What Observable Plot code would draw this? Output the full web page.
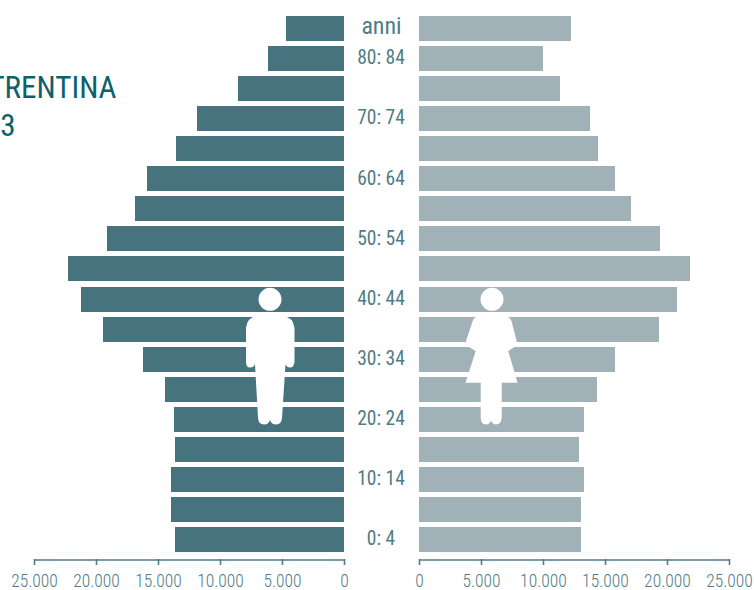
<!DOCTYPE html>
<html><head><meta charset="utf-8">
<script src="https://cdn.jsdelivr.net/npm/d3@7"></script>
<script src="https://cdn.jsdelivr.net/npm/@observablehq/plot@0.6"></script>
<style>html,body{margin:0;padding:0;background:#fff}svg{display:block}</style>
</head><body><div id="chart"></div>
<script>
const ages = ["anni","80: 84","75: 79","70: 74","65: 69","60: 64","55: 59","50: 54","45: 49","40: 44","35: 39","30: 34","25: 29","20: 24","15: 19","10: 14","5: 9","0: 4"];
const shownAges = ["80: 84","70: 74","60: 64","50: 54","40: 44","30: 34","20: 24","10: 14","0: 4"];
const topLabel = ["anni"];
const males = [4680,6130,8550,11860,13550,15890,16860,19110,22260,21210,19440,16210,14440,13710,13630,13950,13950,13630];
const females = [12260,10000,11370,13790,14440,15810,17100,19440,21860,20810,19360,15810,14360,13310,12900,13310,13070,13070];
const axisValues = [0,5000,10000,15000,20000,25000];
const titleLines = ["TRENTINA","3"];

const gap = 3024; // half of the central column, in population units
const maxV = 25000;
const font = "'Liberation Sans Narrow','Roboto Condensed','Liberation Sans',sans-serif";
const dark = "#47737f", light = "#a0b1b8", axisCol = "#4f7c86", labelCol = "#4f7c86", titleCol = "#0b626b";

const rows = ages.map((a,i)=>({age:a, m:males[i], f:females[i]}));
const itFmt = d => d === 0 ? "0" : d3.format(",")(d).replace(/,/g,".");
const tickPos = [...axisValues.map(v=>-(v+gap)), ...axisValues.map(v=>v+gap)];

const maleIcon = "M257 316L283 316Q293 317 294.5 328L294.5 362Q294 367.5 290 367.5Q286.5 367.5 285.5 364L282 418Q281.5 424.5 276 424.5Q271.5 424.5 270 420Q268.5 424.5 264 424.5Q258.5 424.5 258 418L255 364Q254 367.5 250 367.5Q246 367.5 246 362L246 328Q247 317 257 316ZM258.5 299.3a11.5 11.5 0 1 0 23 0a11.5 11.5 0 1 0 -23 0Z";
const femaleIcon = "M479 316L505 316Q511 317 512 323L516.7 341L516 346L508.3 351L517.5 382.7L501.7 382.7L501.7 418Q501 424.5 496 424.5Q492.5 424.5 491 420.5Q489.5 424.5 486 424.5Q481 424.5 480.7 418L480.7 382.7L465.5 382.7L475.7 351L467.3 346L466 341L472 323Q473 317 479 316ZM480.5 299.3a11.5 11.5 0 1 0 23 0a11.5 11.5 0 1 0 -23 0Z";
const icon = d => () => {
  const p = document.createElementNS("http://www.w3.org/2000/svg","path");
  p.setAttribute("d", d); p.setAttribute("fill", "#fff"); return p;
};

const chart = Plot.plot({
  width: 754, height: 590,
  marginTop: 0, marginBottom: 31, marginLeft: 0, marginRight: 0,
  style: {background: "#fff", fontFamily: font},
  x: {domain: [-(maxV+gap), maxV+gap], range: [34, 729], axis: null},
  y: {domain: ages, range: [16, 552], paddingInner: 0.167, paddingOuter: 0, round: false, axis: null},
  marks: [
    Plot.barX(rows, {y: "age", x1: -gap, x2: d => -gap - d.m, fill: dark, shapeRendering: "crispEdges"}),
    Plot.barX(rows, {y: "age", x1: gap, x2: d => gap + d.f, fill: light, shapeRendering: "crispEdges"}),
    Plot.text(rows.filter(d => shownAges.includes(d.age)), {
      y: "age", x: 0, text: "age", fill: labelCol, fontSize: 19.5, dx: -1, dy: -1,
      lineAnchor: "middle", textAnchor: "middle"
    }),
    Plot.text(rows.filter(d => topLabel.includes(d.age)), {
      y: "age", x: 0, text: "age", fill: labelCol, fontSize: 24, dx: -0.5, dy: -3,
      lineAnchor: "middle", textAnchor: "middle"
    }),
    Plot.axisX({
      ticks: tickPos, anchor: "bottom", label: null, tickSize: 6, tickPadding: 9,
      tickFormat: d => itFmt(Math.abs(d) - gap),
      stroke: axisCol, strokeWidth: 1.6, fill: labelCol, fontSize: 17.5, fontWeight: 300
    }),
    Plot.ruleY(["0: 4"], {y: d => d, x1: -(maxV+gap), x2: -gap, stroke: axisCol, strokeWidth: 1.6, dy: 20}),
    Plot.ruleY(["0: 4"], {y: d => d, x1: gap, x2: maxV+gap, stroke: axisCol, strokeWidth: 1.6, dy: 20}),
    icon(maleIcon),
    icon(femaleIcon),
    Plot.text([titleLines[0]], {frameAnchor: "top-left", dx: 116, dy: 88, text: d => d, textAnchor: "end", lineAnchor: "middle", fill: titleCol, fontSize: 31}),
    Plot.text([titleLines[1]], {frameAnchor: "top-left", dx: 15, dy: 125.5, text: d => d, textAnchor: "end", lineAnchor: "middle", fill: titleCol, fontSize: 31})
  ]
});
document.getElementById("chart").append(chart);
</script></body></html>
